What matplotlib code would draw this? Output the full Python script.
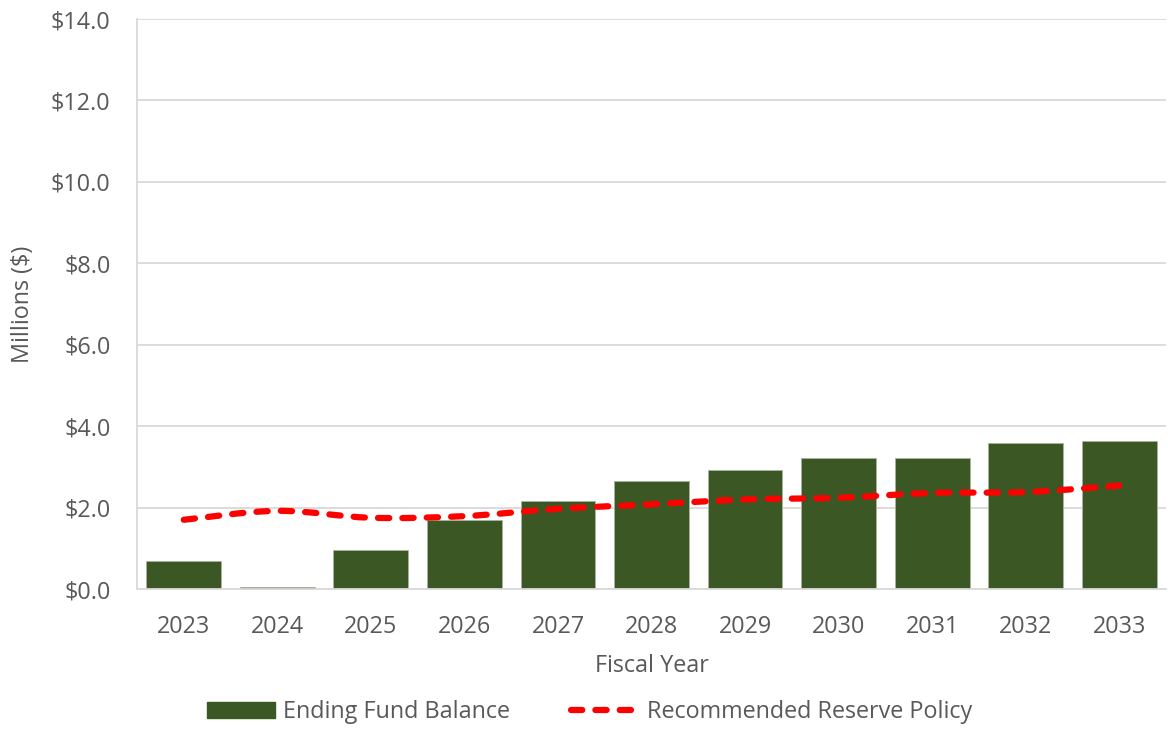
import numpy as np
import matplotlib.pyplot as plt
from matplotlib.path import Path
from matplotlib.patches import PathPatch, Patch
from matplotlib.lines import Line2D

plt.rcParams['font.family'] = ['Open Sans', 'DejaVu Sans']

years = ['2023', '2024', '2025', '2026', '2027', '2028', '2029', '2030', '2031', '2032', '2033']
fund_balance = [0.69, 0.06, 0.96, 1.70, 2.16, 2.66, 2.93, 3.22, 3.22, 3.59, 3.63]
reserve_policy = [1.70, 1.92, 1.75, 1.79, 1.97, 2.08, 2.20, 2.24, 2.36, 2.38, 2.54]
yticks = [0, 2, 4, 6, 8, 10, 12, 14]

GREEN = '#3b5724'
RED = '#ff0000'
TXT = '#595959'
GRID = '#d9d9d9'
FS = 16.8


def smooth_path(xs, ys, k=1 / 6):
    # catmull-rom style bezier, like excel's smoothed line
    pts = np.column_stack([xs, ys]).astype(float)
    verts = [pts[0]]
    codes = [Path.MOVETO]
    n = len(pts)
    for i in range(n - 1):
        p0 = pts[i - 1] if i > 0 else pts[i]
        p1 = pts[i]
        p2 = pts[i + 1]
        p3 = pts[i + 2] if i + 2 < n else pts[i + 1]
        c1 = p1 + (p2 - p0) * k
        c2 = p2 - (p3 - p1) * k
        verts += [c1, c2, p2]
        codes += [Path.CURVE4] * 3
    return Path(verts, codes)


fig = plt.figure(figsize=(11.68, 7.29), dpi=100)
ax = fig.add_axes([137 / 1168, 1 - 589 / 729, 1029 / 1168, 570 / 729])

x = np.arange(len(years))
ax.bar(x, fund_balance, width=0.8, color=GREEN, edgecolor='#a9b59e', linewidth=0.6, zorder=2)

pp = PathPatch(smooth_path(x, reserve_policy), fill=False, edgecolor=RED, linewidth=4.5,
               linestyle=(0, (1.8, 2.1)), capstyle='round', zorder=3)
ax.add_patch(pp)

ax.set_xlim(-0.5, len(years) - 0.5)
ax.set_ylim(0, 14)
ax.set_yticks(yticks)
ax.set_yticklabels([f'${v:.1f}' for v in yticks])
ax.set_xticks(x)
ax.set_xticklabels(years)
ax.tick_params(axis='both', length=0, labelsize=FS, colors=TXT)
ax.tick_params(axis='y', pad=19)
ax.tick_params(axis='x', pad=19)
ax.yaxis.grid(True, color=GRID, linewidth=1.3, zorder=0)
ax.set_axisbelow(True)
for s in ['top', 'right']:
    ax.spines[s].set_visible(False)
ax.spines['left'].set_color(GRID)
ax.spines['bottom'].set_color(GRID)
ax.spines['left'].set_linewidth(1.3)
ax.spines['bottom'].set_linewidth(1.3)

ax.set_ylabel('Millions ($)', fontsize=FS, color=TXT, va='center', ha='center')
ax.yaxis.set_label_coords((23 - 137) / 1029, 0.5)
ax.set_xlabel('Fiscal Year', fontsize=FS, color=TXT, va='center', ha='center')
ax.xaxis.set_label_coords(0.5, (589 - 666) / 570)

handles = [Patch(facecolor=GREEN, edgecolor=GREEN),
           Line2D([0], [0], color=RED, linewidth=4.5, linestyle=(0, (1.8, 2.1)),
                  dash_capstyle='round')]
fig.legend(handles, ['Ending Fund Balance', 'Recommended Reserve Policy'],
           loc='center', bbox_to_anchor=(0.5047, 1 - 712 / 729), ncol=2, frameon=False,
           fontsize=FS, labelcolor=TXT, handlelength=2.9, handleheight=0.7,
           columnspacing=2.6, handletextpad=0.35)

fig.savefig('out.png', dpi=100)
